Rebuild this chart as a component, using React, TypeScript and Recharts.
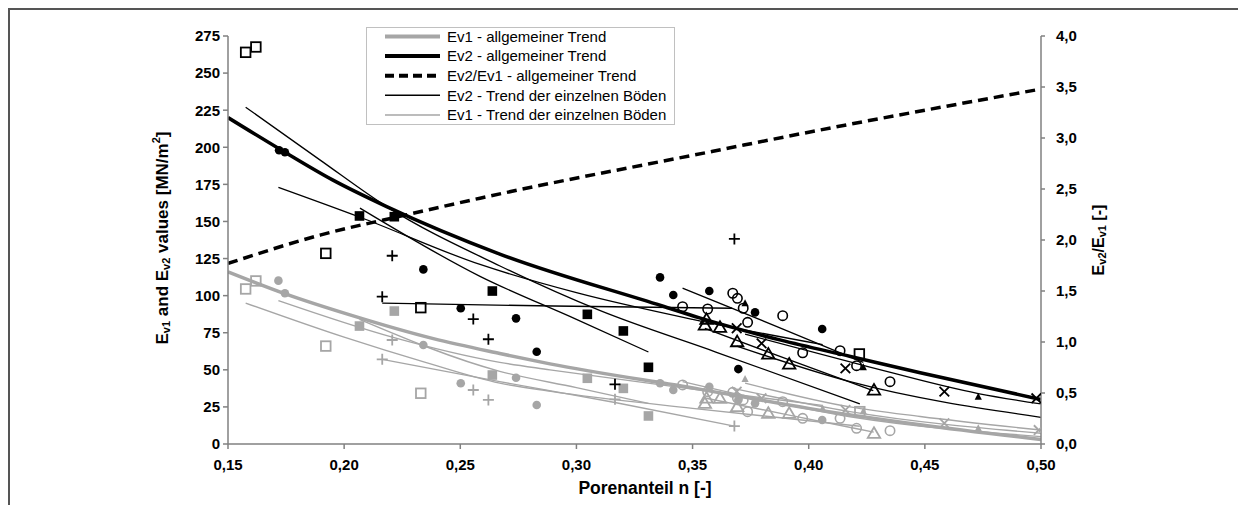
import React from 'react';
import { ComposedChart, Line, Scatter, XAxis, YAxis, Label } from 'recharts';

document.body.style.overflow = 'hidden';

// x = Porenanteil n, v = value
const xTicks = [0.15, 0.2, 0.25, 0.3, 0.35, 0.4, 0.45, 0.5];
const leftTicks = [0, 25, 50, 75, 100, 125, 150, 175, 200, 225, 250, 275];
const rightTicks = [0, 0.5, 1, 1.5, 2, 2.5, 3, 3.5, 4];

// general trends
const ev1General = [[0.15, 116], [0.175, 101], [0.2025, 87], [0.2384, 71], [0.267, 61], [0.2886, 54], [0.353, 37], [0.4, 24], [0.448, 13], [0.5, 3]];
const ev2General = [[0.15, 220], [0.172, 199], [0.195, 178], [0.2183, 160], [0.267, 128], [0.337, 93], [0.353, 85], [0.388, 70], [0.418, 59], [0.448, 48], [0.5, 30]];
const ratioGeneral = [[0.15, 1.77], [0.19, 2.05], [0.2275, 2.25], [0.2585, 2.41], [0.3588, 2.87], [0.3962, 3.04], [0.5, 3.48]];

// Ev2 trends of the single soils
const ev2TrendOpenSq = [[0.1576, 227], [0.19, 191], [0.2183, 160], [0.2671, 120], [0.31, 90], [0.36, 62], [0.422, 27]];
const ev2TrendFilledCirc = [[0.1717, 173], [0.2066, 153], [0.2585, 121], [0.3, 102], [0.35, 84], [0.406, 67]];
const ev2TrendFilledSq = [[0.2068, 159], [0.2585, 113], [0.3, 84], [0.331, 62]];
const ev2TrendPlus = [[0.2164, 95], [0.29, 93], [0.367, 91.5]];
const ev2TrendOpenCirc = [[0.3457, 105], [0.385, 80], [0.4235, 55]];
const ev2TrendOpenTri = [[0.3553, 78], [0.3876, 59], [0.4278, 36]];
const ev2TrendCross = [[0.369, 66], [0.4178, 42], [0.5, 18]];
const ev2TrendFilledTri = [[0.3726, 74], [0.4235, 53], [0.473, 34], [0.5, 27]];

// Ev1 trends of the single soils
const ev1TrendOpenSq = [[0.1576, 95], [0.2, 72], [0.235, 55], [0.267, 41], [0.289, 35.5], [0.35, 24], [0.422, 12]];
const ev1TrendFilledCirc = [[0.1717, 96.6], [0.2207, 72], [0.267, 55], [0.2886, 50], [0.35, 37], [0.406, 26]];
const ev1TrendFilledSq = [[0.2066, 84], [0.267, 49], [0.3, 38], [0.331, 27.4]];
const ev1TrendPlus = [[0.2164, 57], [0.267, 42], [0.3166, 28], [0.368, 12]];
const ev1TrendOpenCirc = [[0.3457, 42], [0.4178, 18.4], [0.5, 5]];
const ev1TrendOpenTri = [[0.3553, 31], [0.39, 20], [0.428, 8]];
const ev1TrendCross = [[0.369, 37], [0.4178, 21.8], [0.5, 7.2]];
const ev1TrendFilledTri = [[0.3726, 41], [0.4178, 25], [0.448, 18.5], [0.5, 9.4]];

// Ev2 measurements (black)
const ev2OpenSq = [[0.1576, 264], [0.162, 267.6], [0.1921, 128.5], [0.233, 91.9], [0.4218, 60.7]];
const ev2FilledSq = [[0.2066, 153.7], [0.2216, 153.2], [0.2638, 103.1], [0.3047, 87.4], [0.3202, 76.2], [0.331, 51.7]];
const ev2FilledCirc = [[0.172, 198], [0.1745, 196.6], [0.2341, 117.7], [0.2502, 91.5], [0.274, 84.7], [0.2829, 62.2], [0.336, 112.3], [0.3417, 100.4], [0.3572, 103.1], [0.3697, 50.5], [0.3769, 88.7], [0.4058, 77.5]];
const ev2OpenCirc = [[0.3457, 92.5], [0.3565, 91], [0.3673, 101.6], [0.3693, 98.2], [0.3718, 91.5], [0.3737, 82], [0.3888, 86.5], [0.3974, 61.5], [0.4135, 62.9], [0.4206, 52.8], [0.435, 42]];
const ev2Plus = [[0.2164, 99.3], [0.2207, 126.9], [0.2556, 84.2], [0.2621, 70.6], [0.3166, 40.2], [0.368, 138.2]];
const ev2OpenTri = [[0.3553, 80.2], [0.356, 84], [0.3618, 78.7], [0.3692, 69], [0.3826, 60.7], [0.3916, 53.9], [0.4281, 36.4]];
const ev2Cross = [[0.369, 78], [0.3797, 67.8], [0.4158, 51], [0.4584, 35.3], [0.498, 30.8]];
const ev2FilledTri = [[0.3726, 94.8], [0.4235, 51.7], [0.473, 31.9]];

// Ev1 measurements (grey)
const ev1OpenSq = [[0.1576, 104.5], [0.162, 109.9], [0.1921, 66], [0.233, 34.2], [0.422, 21.8]];
const ev1FilledSq = [[0.2066, 79.5], [0.2216, 89.6], [0.2638, 46.5], [0.3047, 44.3], [0.3202, 37.5], [0.331, 18.9]];
const ev1FilledCirc = [[0.1717, 110.1], [0.1745, 101.6], [0.2341, 66.7], [0.2502, 40.9], [0.274, 44.7], [0.2829, 26.3], [0.336, 40.9], [0.3417, 36.4], [0.3572, 38.6], [0.3697, 29.7], [0.3769, 27.4], [0.4058, 16.2]];
const ev1OpenCirc = [[0.3457, 39.8], [0.3565, 35.3], [0.3673, 34.8], [0.3693, 31], [0.3718, 29.7], [0.3737, 21.8], [0.3888, 28.5], [0.3974, 17.3], [0.4135, 17.3], [0.4206, 10.6], [0.435, 9]];
const ev1Plus = [[0.2164, 57.1], [0.2207, 70.1], [0.2556, 36.4], [0.2621, 29.7], [0.3166, 30.1], [0.368, 12.1]];
const ev1OpenTri = [[0.3553, 27.4], [0.356, 31], [0.3618, 30.8], [0.3692, 25.2], [0.3826, 20.7], [0.3916, 20.7], [0.4281, 7.2]];
const ev1Cross = [[0.369, 35.3], [0.3797, 30.8], [0.4158, 22.9], [0.4584, 14], [0.499, 9.4]];
const ev1FilledTri = [[0.3726, 43.8], [0.406, 24], [0.4235, 22], [0.473, 10.6]];

const BLACK = '#000000';
const GREY = '#a6a6a6';
const AXIS = '#808080';
const FONT = '"Liberation Sans", Arial, sans-serif';

const pts = (arr: number[][]) => arr.map(([n, v]) => ({ n, v }));
const comma = (v: number, d: number) => v.toFixed(d).replace('.', ',');

type ShapeProps = { cx?: number; cy?: number };

const openSquare = (c: string) => ({ cx = 0, cy = 0 }: ShapeProps) => (
  <rect x={cx - 4.8} y={cy - 4.8} width={9.6} height={9.6} fill="none" stroke={c} strokeWidth={1.8} />
);
const filledSquare = (c: string) => ({ cx = 0, cy = 0 }: ShapeProps) => (
  <rect x={cx - 4.8} y={cy - 4.8} width={9.6} height={9.6} fill={c} />
);
const filledCircle = (c: string) => ({ cx = 0, cy = 0 }: ShapeProps) => (
  <circle cx={cx} cy={cy} r={4.3} fill={c} />
);
const openCircle = (c: string) => ({ cx = 0, cy = 0 }: ShapeProps) => (
  <circle cx={cx} cy={cy} r={4.7} fill="none" stroke={c} strokeWidth={1.6} />
);
const plus = (c: string) => ({ cx = 0, cy = 0 }: ShapeProps) => (
  <path d={`M${cx - 5.5},${cy}H${cx + 5.5}M${cx},${cy - 5.5}V${cy + 5.5}`} stroke={c} strokeWidth={1.8} />
);
const cross = (c: string) => ({ cx = 0, cy = 0 }: ShapeProps) => (
  <path d={`M${cx - 4.8},${cy - 4.8}L${cx + 4.8},${cy + 4.8}M${cx - 4.8},${cy + 4.8}L${cx + 4.8},${cy - 4.8}`} stroke={c} strokeWidth={1.8} />
);
const openTriangle = (c: string) => ({ cx = 0, cy = 0 }: ShapeProps) => (
  <path d={`M${cx},${cy - 6}L${cx + 6.2},${cy + 4.6}L${cx - 6.2},${cy + 4.6}Z`} fill="none" stroke={c} strokeWidth={1.8} />
);
const filledTriangle = (c: string) => ({ cx = 0, cy = 0 }: ShapeProps) => (
  <path d={`M${cx},${cy - 4}L${cx + 3.6},${cy + 3}L${cx - 3.6},${cy + 3}Z`} fill={c} />
);

const blackTrends = [ev2TrendOpenSq, ev2TrendFilledCirc, ev2TrendFilledSq, ev2TrendPlus, ev2TrendOpenCirc, ev2TrendOpenTri, ev2TrendCross, ev2TrendFilledTri];
const greyTrends = [ev1TrendOpenSq, ev1TrendFilledCirc, ev1TrendFilledSq, ev1TrendPlus, ev1TrendOpenCirc, ev1TrendOpenTri, ev1TrendCross, ev1TrendFilledTri];

const scatterSets: [number[][], (c: string) => (p: ShapeProps) => React.ReactElement, string][] = [
  [ev1OpenSq, openSquare, GREY],
  [ev1FilledSq, filledSquare, GREY],
  [ev1FilledCirc, filledCircle, GREY],
  [ev1OpenCirc, openCircle, GREY],
  [ev1Plus, plus, GREY],
  [ev1OpenTri, openTriangle, GREY],
  [ev1Cross, cross, GREY],
  [ev1FilledTri, filledTriangle, GREY],
  [ev2OpenSq, openSquare, BLACK],
  [ev2FilledSq, filledSquare, BLACK],
  [ev2FilledCirc, filledCircle, BLACK],
  [ev2OpenCirc, openCircle, BLACK],
  [ev2Plus, plus, BLACK],
  [ev2OpenTri, openTriangle, BLACK],
  [ev2Cross, cross, BLACK],
  [ev2FilledTri, filledTriangle, BLACK],
];

const legendItems = [
  { label: 'Ev1 - allgemeiner Trend', color: GREY, width: 4, dash: undefined },
  { label: 'Ev2 - allgemeiner Trend', color: BLACK, width: 4, dash: undefined },
  { label: 'Ev2/Ev1 - allgemeiner Trend', color: BLACK, width: 4, dash: '9 5' },
  { label: 'Ev2 - Trend der einzelnen Böden', color: BLACK, width: 1.5, dash: undefined },
  { label: 'Ev1 - Trend der einzelnen Böden', color: GREY, width: 1.5, dash: undefined },
];

function ChartLegend() {
  return (
    <svg width={309} height={98} style={{ position: 'absolute', left: 356, top: 17 }}>
      <rect x={0.5} y={0.5} width={308} height={97} fill="#fff" stroke="#c0c0c0" />
      {legendItems.map((it, i) => {
        const y = 9.5 + i * 19.6;
        return (
          <g key={it.label}>
            <line x1={19} x2={74} y1={y} y2={y} stroke={it.color} strokeWidth={it.width} strokeDasharray={it.dash} />
            <text x={81} y={y + 5.3} fontSize={15} fontFamily={FONT} fill="#000">{it.label}</text>
          </g>
        );
      })}
    </svg>
  );
}

const leftTitle = () => (
  <text transform="rotate(-90,152,228)" x={152} y={228} textAnchor="middle" dominantBaseline="central" fontSize={17} fontWeight="bold" fontFamily={FONT} fill="#000">
    E<tspan fontSize={11} dy={4}>v1</tspan><tspan dy={-4}> and E</tspan><tspan fontSize={11} dy={4}>v2</tspan><tspan dy={-4}> values [MN/m</tspan><tspan fontSize={11} dy={-6}>2</tspan><tspan dy={6}>]</tspan>
  </text>
);

const rightTitle = () => (
  <text transform="rotate(-90,1088,230)" x={1088} y={230} textAnchor="middle" dominantBaseline="central" fontSize={16} fontWeight="bold" fontFamily={FONT} fill="#000">
    E<tspan fontSize={11} dy={4}>v2</tspan><tspan dy={-4}>/E</tspan><tspan fontSize={11} dy={4}>v1</tspan><tspan dy={-4}> [-]</tspan>
  </text>
);

const bottomTitle = () => (
  <text x={635} y={484} textAnchor="middle" fontSize={17.5} fontWeight="bold" fontFamily={FONT} fill="#000">Porenanteil n [-]</text>
);

const tickStyle = { fontSize: 15, fontWeight: 'bold', fill: '#000', fontFamily: FONT };

export default function App() {
  return (
    <div style={{ width: 1238, height: 497, overflow: 'hidden' }}>
      <div style={{ position: 'relative', width: 1300, height: 560, border: '2px solid #555', fontFamily: FONT }}>
        <ComposedChart width={1236} height={495} margin={{ top: 26, right: 145, bottom: 31, left: 158 }}>
          <XAxis
            type="number"
            dataKey="n"
            domain={[0.15, 0.5]}
            ticks={xTicks}
            allowDataOverflow
            tickFormatter={(v: number) => comma(v, 2)}
            stroke={AXIS}
            strokeWidth={1.5}
            tick={tickStyle}
            tickSize={5}
            tickMargin={10}
            height={30}
          >
            <Label content={bottomTitle} />
          </XAxis>
          <YAxis
            yAxisId="left"
            type="number"
            domain={[0, 275]}
            ticks={leftTicks}
            allowDataOverflow
            stroke={AXIS}
            strokeWidth={1.5}
            tick={tickStyle}
            tickSize={5}
            tickMargin={3}
            width={60}
          >
            <Label content={leftTitle} />
          </YAxis>
          <YAxis
            yAxisId="right"
            orientation="right"
            type="number"
            domain={[0, 4]}
            ticks={rightTicks}
            allowDataOverflow
            tickFormatter={(v: number) => comma(v, 1)}
            stroke={AXIS}
            strokeWidth={1.5}
            tick={tickStyle}
            tickSize={4}
            tickMargin={11}
            width={60}
          >
            <Label content={rightTitle} />
          </YAxis>

          {greyTrends.map((d, i) => (
            <Line key={`g${i}`} yAxisId="left" data={pts(d)} dataKey="v" type="monotone" stroke={GREY} strokeWidth={1.4} dot={false} activeDot={false} isAnimationActive={false} />
          ))}
          {blackTrends.map((d, i) => (
            <Line key={`b${i}`} yAxisId="left" data={pts(d)} dataKey="v" type="monotone" stroke={BLACK} strokeWidth={1.3} dot={false} activeDot={false} isAnimationActive={false} />
          ))}
          <Line yAxisId="left" data={pts(ev1General)} dataKey="v" type="monotone" stroke={GREY} strokeWidth={3.5} dot={false} activeDot={false} isAnimationActive={false} />
          <Line yAxisId="left" data={pts(ev2General)} dataKey="v" type="monotone" stroke={BLACK} strokeWidth={3.5} dot={false} activeDot={false} isAnimationActive={false} />
          <Line yAxisId="right" data={pts(ratioGeneral)} dataKey="v" type="monotone" stroke={BLACK} strokeWidth={3.5} strokeDasharray="10 6" dot={false} activeDot={false} isAnimationActive={false} />

          {scatterSets.map(([d, shape, c], i) => (
            <Scatter key={`s${i}`} yAxisId="left" data={pts(d)} dataKey="v" shape={shape(c)} isAnimationActive={false} />
          ))}
        </ComposedChart>
        <ChartLegend />
      </div>
    </div>
  );
}
